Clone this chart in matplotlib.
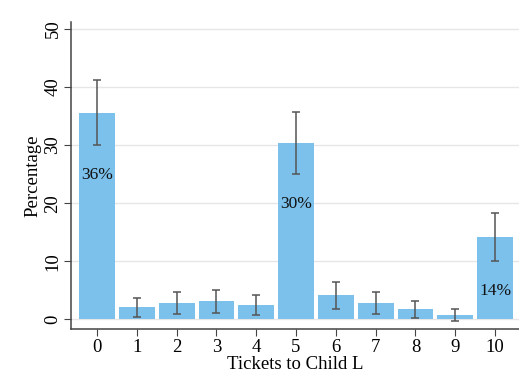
import matplotlib
matplotlib.use('Agg')
import matplotlib.pyplot as plt
import numpy as np

plt.rcParams['font.family'] = ['Liberation Serif', 'DejaVu Serif']

# data
tickets = [0, 1, 2, 3, 4, 5, 6, 7, 8, 9, 10]
pct = [35.5, 2.1, 2.8, 3.1, 2.4, 30.3, 4.1, 2.8, 1.7, 0.7, 14.1]
ci_low = [30.0, 0.4, 0.9, 1.1, 0.7, 25.1, 1.8, 0.9, 0.2, -0.3, 10.1]
ci_high = [41.2, 3.7, 4.7, 5.1, 4.2, 35.7, 6.4, 4.7, 3.2, 1.7, 18.3]
labels = {0: '36%', 5: '30%', 10: '14%'}
label_y = {0: 24.8, 5: 19.8, 10: 4.8}

fig = plt.figure(figsize=(5.19, 3.85), dpi=100)
ax = fig.add_axes([0.137, 0.145, 0.863, 0.798])

ax.set_axisbelow(True)
ax.yaxis.grid(True, color='#e6e6e6', linewidth=1)
ax.bar(tickets, pct, width=0.9, color='#7bc1ec', zorder=2)

pct_a = np.array(pct)
err = [pct_a - np.array(ci_low), np.array(ci_high) - pct_a]
ax.errorbar(tickets, pct, yerr=err, fmt='none', ecolor='#555555',
            elinewidth=1.1, capsize=3, capthick=1.1, zorder=3)

for k, s in labels.items():
    ax.text(k, label_y[k], s, ha='center', va='center', fontsize=12.5, color='#111111', zorder=4)

ax.set_xlim(-0.65, 10.6)
ax.set_ylim(-1.7, 51.2)
ax.set_xticks(tickets)
ax.set_yticks([0, 10, 20, 30, 40, 50])
ax.tick_params(axis='both', labelsize=13.5, length=5, color='#444444', direction='out', pad=2)
for lab in ax.get_yticklabels():
    lab.set_rotation(90)
    lab.set_va('center')

for side in ['top', 'right']:
    ax.spines[side].set_visible(False)
for side in ['left', 'bottom']:
    ax.spines[side].set_color('#444444')
    ax.spines[side].set_linewidth(1.1)

ax.set_xlabel('Tickets to Child L', fontsize=13.5, labelpad=0)
ax.set_ylabel('Percentage', fontsize=13.5, labelpad=2)

fig.savefig('out.png', dpi=100)
